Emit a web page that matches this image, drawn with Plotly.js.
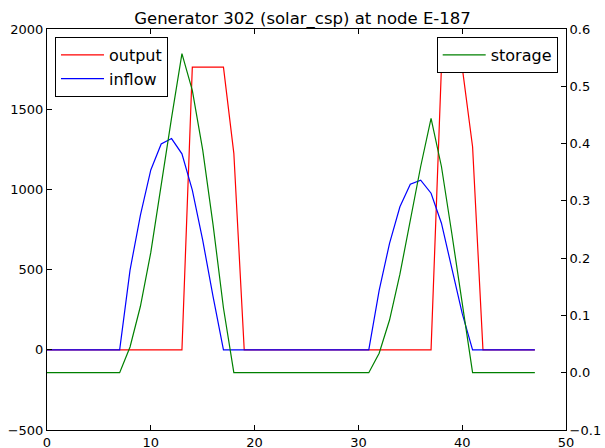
<!DOCTYPE html>
<html>
<head>
<meta charset="utf-8">
<script src="https://cdn.plot.ly/plotly-3.0.1.min.js"></script>
<style>html,body{margin:0;padding:0;background:#fff;}#chart{width:605px;height:448px;}</style>
</head>
<body>
<div id="chart"></div>
<script>
const hours = [0,1,2,3,4,5,6,7,8,9,10,11,12,13,14,15,16,17,18,19,20,21,22,23,24,25,26,27,28,29,30,31,32,33,34,35,36,37,38,39,40,41,42,43,44,45,46,47];
const output = [0,0,0,0,0,0,0,0,0,0,0,0,0,0,1762,1762,1762,1762,1225,0,0,0,0,0,0,0,0,0,0,0,0,0,0,0,0,0,0,0,1762,1762,1762,1266,0,0,0,0,0,0];
const inflow = [0,0,0,0,0,0,0,0,497,840,1121,1283,1317,1222,996,684,331,0,0,0,0,0,0,0,0,0,0,0,0,0,0,0,370,664,892,1032,1058,976,789,510,227,0,0,0,0,0,0,0];
const storage = [0,0,0,0,0,0,0,0,0.045,0.116,0.21,0.33,0.445,0.557,0.493,0.389,0.258,0.113,0,0,0,0,0,0,0,0,0,0,0,0,0,0,0.034,0.092,0.172,0.268,0.36,0.444,0.36,0.243,0.121,0,0,0,0,0,0,0];
const leftTicks = [-500,0,500,1000,1500,2000];
const leftTickText = ["\u2212500","0","500","1000","1500","2000"];
const rightTicks = [-0.1,0,0.1,0.2,0.3,0.4,0.5,0.6];
const rightTickText = ["\u22120.1","0.0","0.1","0.2","0.3","0.4","0.5","0.6"];
const xTicks = [0,10,20,30,40,50];

const font = {family: "DejaVu Sans", size: 13, color: "#000"};
const legendFont = {family: "DejaVu Sans", size: 16, color: "#000"};
const traces = [
  {x: hours, y: output, name: "output", mode: "lines", line: {color: "#ff0000", width: 1.2}, legend: "legend"},
  {x: hours, y: inflow, name: "inflow", mode: "lines", line: {color: "#0000ff", width: 1.2}, legend: "legend"},
  {x: hours, y: storage, name: "storage", mode: "lines", line: {color: "#008000", width: 1.2}, yaxis: "y2", legend: "legend2"}
];
const axisCommon = {showgrid: false, zeroline: false, showline: true, linecolor: "#000", linewidth: 1, ticks: "inside", ticklen: 5, tickcolor: "#000", tickfont: font};
const layout = {
  width: 605, height: 448,
  margin: {l: 47, r: 39, t: 29, b: 18},
  paper_bgcolor: "#fff", plot_bgcolor: "#fff",
  font: font,
  title: {text: "Generator 302 (solar_csp) at node E-187", font: {family: "DejaVu Sans", size: 16.5, color: "#000"}, x: 0.5, xanchor: "center", y: 0.947, yanchor: "bottom"},
  xaxis: Object.assign({}, axisCommon, {range: [0, 50], tickvals: xTicks, mirror: "ticks"}),
  yaxis: Object.assign({}, axisCommon, {range: [-500, 2000], tickvals: leftTicks, ticktext: leftTickText}),
  yaxis2: Object.assign({}, axisCommon, {range: [-0.1, 0.6], tickvals: rightTicks, ticktext: rightTickText, overlaying: "y", side: "right"}),
  showlegend: true,
  legend: {x: 0.0154, y: 0.98, xanchor: "left", yanchor: "top", bordercolor: "#000", borderwidth: 1, bgcolor: "#fff", font: legendFont, itemwidth: 43, tracegroupgap: 0},
  legend2: {x: 0.984, y: 0.98, xanchor: "right", yanchor: "top", bordercolor: "#000", borderwidth: 1, bgcolor: "#fff", font: legendFont, itemwidth: 43}
};
Plotly.newPlot("chart", traces, layout, {displayModeBar: false, staticPlot: true});
</script>
</body>
</html>
